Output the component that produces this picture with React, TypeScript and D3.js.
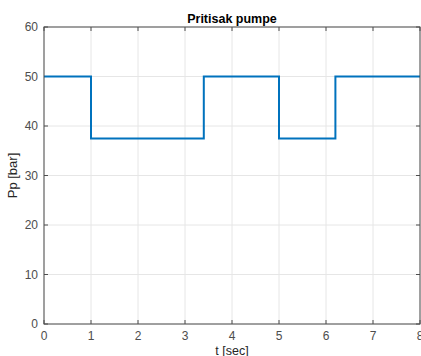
import React, { useRef, useEffect } from 'react';
import * as d3 from 'd3';

// step signal: time of each breakpoint and pressure held from that time
const times = [0, 1, 1, 3.4, 3.4, 5, 5, 6.2, 6.2, 8];
const pressure = [50, 50, 37.5, 37.5, 50, 50, 37.5, 37.5, 50, 50];
const xTicks = [0, 1, 2, 3, 4, 5, 6, 7, 8];
const yTicks = [0, 10, 20, 30, 40, 50, 60];

const App = () => {
    const svgRef = useRef<SVGSVGElement>(null);

    useEffect(() => {
        if (!svgRef.current) return;
        const W = 421, H = 356;
        const margin = { top: 27, right: 1, bottom: 32, left: 44 };
        const width = W - margin.left - margin.right;
        const height = H - margin.top - margin.bottom;

        const root = d3.select(svgRef.current);
        root.selectAll("*").remove();
        root.attr("width", W).attr("height", H);

        const svg = root.append("g").attr("transform", `translate(${margin.left},${margin.top})`);

        const x = d3.scaleLinear().domain([0, 8]).range([0, width]);
        const y = d3.scaleLinear().domain([0, 60]).range([height, 0]);

        const font = "'Liberation Sans', Arial, sans-serif";

        // grid
        svg.append("g").selectAll("line").data(xTicks).enter().append("line")
            .attr("x1", d => x(d)).attr("x2", d => x(d))
            .attr("y1", 0).attr("y2", height)
            .attr("stroke", "#e6e6e6").attr("stroke-width", 1);
        svg.append("g").selectAll("line").data(yTicks).enter().append("line")
            .attr("x1", 0).attr("x2", width)
            .attr("y1", d => y(d)).attr("y2", d => y(d))
            .attr("stroke", "#e6e6e6").attr("stroke-width", 1);

        // inward ticks, MATLAB style
        const tickLen = 4;
        const tk = svg.append("g").attr("stroke", "#4d4d4d").attr("stroke-width", 1);
        xTicks.forEach(t => {
            tk.append("line").attr("x1", x(t)).attr("x2", x(t)).attr("y1", height).attr("y2", height - tickLen);
            tk.append("line").attr("x1", x(t)).attr("x2", x(t)).attr("y1", 0).attr("y2", tickLen);
        });
        yTicks.forEach(t => {
            tk.append("line").attr("x1", 0).attr("x2", tickLen).attr("y1", y(t)).attr("y2", y(t));
            tk.append("line").attr("x1", width).attr("x2", width - tickLen).attr("y1", y(t)).attr("y2", y(t));
        });

        // data line
        const line = d3.line<number>()
            .x((_, i) => x(times[i]))
            .y(d => y(d));
        svg.append("path")
            .datum(pressure)
            .attr("d", line)
            .attr("fill", "none")
            .attr("stroke", "#0072bd")
            .attr("stroke-width", 2);

        // box
        svg.append("rect")
            .attr("x", 0).attr("y", 0).attr("width", width).attr("height", height)
            .attr("fill", "none").attr("stroke", "#4d4d4d").attr("stroke-width", 1);

        // tick labels
        svg.append("g").selectAll("text").data(xTicks).enter().append("text")
            .attr("x", d => x(d)).attr("y", height + 16)
            .attr("text-anchor", "middle")
            .style("font-family", font).style("font-size", "12px").style("fill", "#4d4d4d")
            .text(d => d);
        svg.append("g").selectAll("text").data(yTicks).enter().append("text")
            .attr("x", -6).attr("y", d => y(d) + 4)
            .attr("text-anchor", "end")
            .style("font-family", font).style("font-size", "12px").style("fill", "#4d4d4d")
            .text(d => d);

        // labels
        svg.append("text")
            .attr("x", width / 2).attr("y", height + 30.5)
            .attr("text-anchor", "middle")
            .style("font-family", font).style("font-size", "12.5px").style("fill", "#262626")
            .text("t [sec]");
        svg.append("text")
            .attr("transform", "rotate(-90)")
            .attr("x", -height / 2).attr("y", -27)
            .attr("text-anchor", "middle")
            .style("font-family", font).style("font-size", "13px").style("fill", "#262626")
            .text("Pp [bar]");
        svg.append("text")
            .attr("x", width / 2).attr("y", -4)
            .attr("text-anchor", "middle")
            .style("font-family", font).style("font-size", "12.5px").style("font-weight", "bold").style("fill", "#000")
            .text("Pritisak pumpe");
    }, []);

    return (
        <svg ref={svgRef} style={{ position: "absolute", left: 0, top: 0, background: "#fff" }}></svg>
    );
};

export default App;
